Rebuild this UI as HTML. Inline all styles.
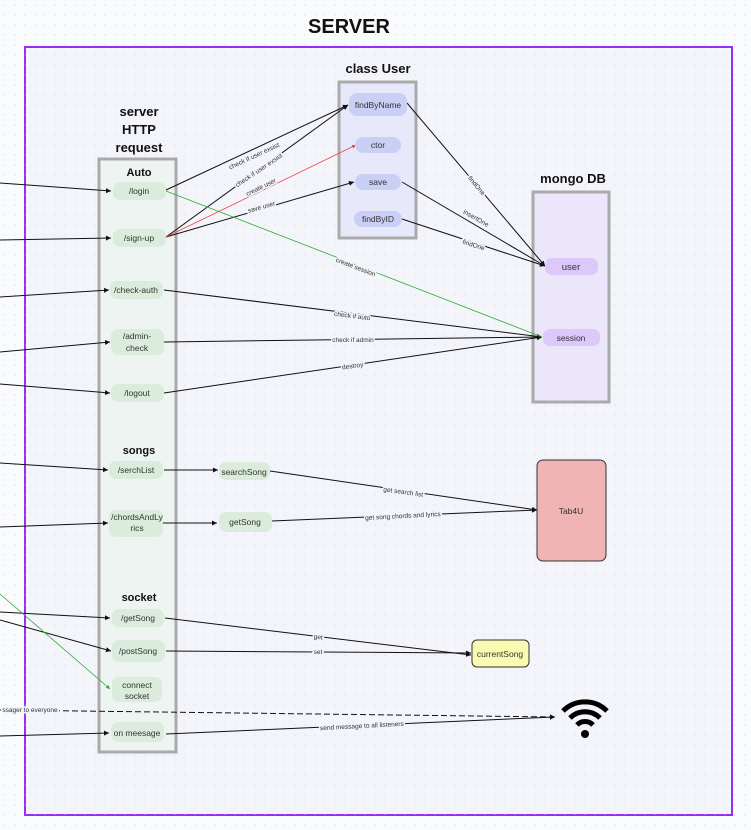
<!DOCTYPE html>
<html><head><meta charset="utf-8"><style>
html,body{margin:0;padding:0;width:751px;height:830px;overflow:hidden;background:#fafbfd;}
svg{display:block;font-family:"Liberation Sans",sans-serif;}
.n{font-size:8.5px;fill:#333;text-anchor:middle;}
.l{font-size:6.5px;fill:#333;text-anchor:middle;}
.h{font-size:13px;font-weight:bold;fill:#111;text-anchor:middle;}
</style></head><body>
<svg width="751" height="830" viewBox="0 0 751 830">
<defs>
<pattern id="dots" width="10" height="10" patternUnits="userSpaceOnUse"><circle cx="5" cy="5" r="0.6" fill="#d4d6dc"/></pattern>
<marker id="a" markerWidth="6" markerHeight="6" refX="5" refY="3" orient="auto"><path d="M0,0.5 L5,3 L0,5.5z" fill="#111"/></marker>
<marker id="ar" markerWidth="6" markerHeight="6" refX="5" refY="3" orient="auto"><path d="M0,0.5 L5,3 L0,5.5z" fill="#e44"/></marker>
<marker id="ag" markerWidth="6" markerHeight="6" refX="5" refY="3" orient="auto"><path d="M0,0.5 L5,3 L0,5.5z" fill="#3a3"/></marker>
</defs>
<rect width="751" height="830" fill="url(#dots)"/>
<text x="349" y="33" style="font-size:20px;font-weight:bold;text-anchor:middle;fill:#111">SERVER</text>
<rect x="25" y="47" width="707" height="768" fill="#f4f5fb" stroke="#9a2cf5" stroke-width="2"/>
<rect x="25" y="47" width="707" height="768" fill="url(#dots)"/>

<!-- boxes -->
<rect x="99" y="159" width="77" height="593" fill="#eef4f1" stroke="#aaa" stroke-width="3"/>
<text class="h" x="139" y="116">server</text><text class="h" x="139" y="134">HTTP</text><text class="h" x="139" y="152">request</text>
<text class="h" x="139" y="176" style="font-size:11px">Auto</text>
<text class="h" x="139" y="454" style="font-size:11px">songs</text>
<text class="h" x="139" y="601" style="font-size:11px">socket</text>

<rect x="339" y="82" width="77" height="156" fill="#e7e9fa" stroke="#aaa" stroke-width="3"/>
<text class="h" x="378" y="73">class User</text>
<rect x="533" y="192" width="76" height="210" fill="#ece6fb" stroke="#aaa" stroke-width="3"/>
<text class="h" x="573" y="183">mongo DB</text>

<rect x="537" y="460" width="69" height="101" rx="6" fill="#f0b4b4" stroke="#333"/>
<text class="n" x="571" y="514">Tab4U</text>
<rect x="472" y="640" width="57" height="27" rx="5" fill="#fafab0" stroke="#333"/>
<text class="n" x="500" y="657">currentSong</text>

<!-- wifi -->
<g fill="none" stroke="#000" stroke-width="5" stroke-linecap="butt">
<path d="M563,711 A31,31 0 0 1 607,711"/>
<path d="M570,718 A21,21 0 0 1 600,718"/>
<path d="M577,725 A11,11 0 0 1 593,725"/>
</g>
<circle cx="585" cy="734" r="4" fill="#000"/>

<!-- connectors -->
<g stroke="#111" stroke-width="1" fill="none" marker-end="url(#a)">
<path d="M0,183 L111,191"/>
<path d="M0,240 L111,238"/>
<path d="M0,297 L109,290"/>
<path d="M0,352 L110,342"/>
<path d="M0,384 L110,393"/>
<path d="M0,463 L108,470"/>
<path d="M0,527 L108,523"/>
<path d="M0,612 L110,618"/>
<path d="M0,620 L111,651"/>
<path d="M0,736 L109,733"/>
<path d="M166,190 L348,105"/>
<path d="M166,237 L348,105"/>
<path d="M166,237 L354,182"/>
<path d="M164,470 L218,470"/>
<path d="M163,523 L217,523"/>
<path d="M270,471 L537,510"/>
<path d="M272,521 L537,510"/>
<path d="M165,618 L471,655"/>
<path d="M166,651 L471,653"/>
<path d="M166,734 L555,717"/>
<path d="M407,103 L545,266"/>
<path d="M402,182 L545,266"/>
<path d="M402,219 L545,266"/>
<path d="M164,290 L542,337"/>
<path d="M164,342 L542,337"/>
<path d="M164,393 L542,337"/>
</g>
<path d="M0,710 L555,717" stroke="#111" stroke-width="1" stroke-dasharray="6,3" fill="none" marker-end="url(#a)"/>
<path d="M166,237 L356,145" stroke="#e44" stroke-width="0.8" fill="none" marker-end="url(#ar)"/>
<path d="M166,191 L542,337" stroke="#3a3" stroke-width="0.8" fill="none"/>
<path d="M0,594 L110,689" stroke="#3a3" stroke-width="0.8" fill="none" marker-end="url(#ag)"/>

<!-- line labels -->
<g class="l">
<text x="255" y="158" transform="rotate(-25 255 158)" style="paint-order:stroke;stroke:#f4f5fb;stroke-width:3">check if user exsist</text>
<text x="260" y="172" transform="rotate(-34 260 172)" style="paint-order:stroke;stroke:#f4f5fb;stroke-width:3">check if user exsist</text>
<text x="262" y="189" transform="rotate(-26 262 189)" style="paint-order:stroke;stroke:#f4f5fb;stroke-width:3">create user</text>
<text x="262" y="209" transform="rotate(-16 262 209)" style="paint-order:stroke;stroke:#f4f5fb;stroke-width:3">save user</text>
<text x="355" y="269" transform="rotate(21 355 269)" style="paint-order:stroke;stroke:#f4f5fb;stroke-width:3">create session</text>
<text x="352" y="318" transform="rotate(7 352 318)" style="paint-order:stroke;stroke:#f4f5fb;stroke-width:3">check if auto</text>
<text x="353" y="342" style="paint-order:stroke;stroke:#f4f5fb;stroke-width:3">check if admin</text>
<text x="353" y="368" transform="rotate(-8 353 368)" style="paint-order:stroke;stroke:#f4f5fb;stroke-width:3">destroy</text>
<text x="475" y="187" transform="rotate(50 475 187)" style="paint-order:stroke;stroke:#f4f5fb;stroke-width:3">findOne</text>
<text x="475" y="220" transform="rotate(30 475 220)" style="paint-order:stroke;stroke:#f4f5fb;stroke-width:3">insertOne</text>
<text x="473" y="247" transform="rotate(18 473 247)" style="paint-order:stroke;stroke:#f4f5fb;stroke-width:3">findOne</text>
<text x="403" y="494" transform="rotate(8 403 494)" style="paint-order:stroke;stroke:#f4f5fb;stroke-width:3">get search list</text>
<text x="403" y="518" transform="rotate(-3 403 518)" style="paint-order:stroke;stroke:#f4f5fb;stroke-width:3">get song chords and lyrics</text>
<text x="318" y="639" transform="rotate(7 318 639)" style="paint-order:stroke;stroke:#f4f5fb;stroke-width:3">get</text>
<text x="318" y="654" style="paint-order:stroke;stroke:#f4f5fb;stroke-width:3">set</text>
<text x="30" y="712" style="paint-order:stroke;stroke:#f4f5fb;stroke-width:3">ssager to everyone</text>
<text x="362" y="728" transform="rotate(-3 362 728)" style="paint-order:stroke;stroke:#f4f5fb;stroke-width:3">send message to all listeners</text>
</g>

<!-- nodes -->
<g fill="#dcecdc">
<rect x="113" y="182" width="53" height="18" rx="7"/>
<rect x="113" y="229" width="53" height="18" rx="7"/>
<rect x="110" y="281" width="53" height="18" rx="7"/>
<rect x="111" y="329" width="53" height="26" rx="7"/>
<rect x="111" y="384" width="53" height="18" rx="7"/>
<rect x="109" y="461" width="54" height="18" rx="7"/>
<rect x="109" y="510" width="54" height="27" rx="7"/>
<rect x="219" y="462" width="51" height="18" rx="7"/>
<rect x="219" y="512" width="53" height="20" rx="7"/>
<rect x="112" y="609" width="52" height="18" rx="7"/>
<rect x="112" y="640" width="53" height="22" rx="7"/>
<rect x="112" y="677" width="50" height="25" rx="7"/>
<rect x="111" y="722" width="53" height="20" rx="7"/>
</g>
<g fill="#c9cff5">
<rect x="349" y="93" width="58" height="23" rx="8"/>
<rect x="355" y="137" width="46" height="16" rx="8"/>
<rect x="355" y="174" width="46" height="16" rx="8"/>
<rect x="354" y="211" width="48" height="16" rx="8"/>
</g>
<g fill="#dcc8fb">
<rect x="545" y="258" width="53" height="17" rx="7"/>
<rect x="543" y="329" width="57" height="17" rx="7"/>
</g>
<g class="n">
<text x="139" y="194">/login</text>
<text x="139" y="241">/sign-up</text>
<text x="136" y="293">/check-auth</text>
<text x="137" y="339">/admin-</text><text x="137" y="351">check</text>
<text x="137" y="396">/logout</text>
<text x="136" y="473">/serchList</text>
<text x="137" y="520">/chordsAndLy</text><text x="137" y="531">rics</text>
<text x="244" y="475">searchSong</text>
<text x="245" y="525">getSong</text>
<text x="138" y="621">/getSong</text>
<text x="138" y="654">/postSong</text>
<text x="137" y="688">connect</text><text x="137" y="699">socket</text>
<text x="137" y="736">on meesage</text>
<text x="378" y="108">findByName</text>
<text x="378" y="148">ctor</text>
<text x="378" y="185">save</text>
<text x="378" y="222">findByID</text>
<text x="571" y="270" style="font-size:9.5px">user</text>
<text x="571" y="341">session</text>
</g>
</svg>
</body></html>
